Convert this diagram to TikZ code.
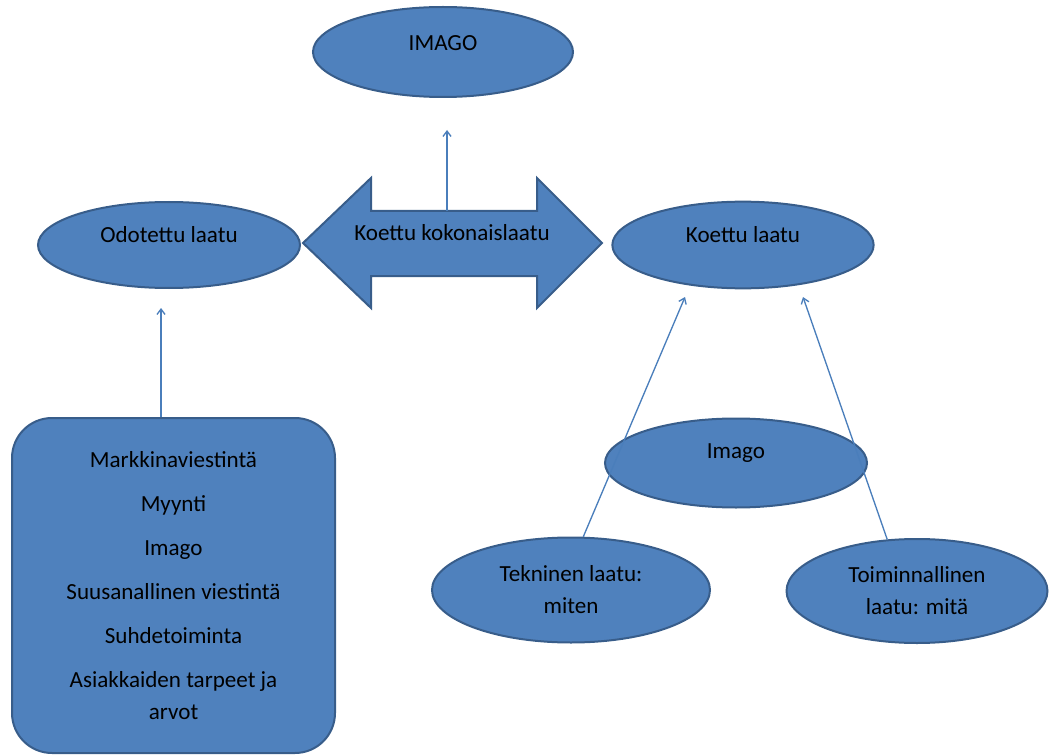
\documentclass[tikz,border=0pt]{standalone}
\usepackage{fontspec}
\setmainfont{Carlito}
\usetikzlibrary{arrows.meta,shapes.geometric}
\definecolor{officeblue}{HTML}{4F81BD}
\definecolor{officeedge}{HTML}{385D8A}
\definecolor{linkblue}{HTML}{4A7EBB}

\begin{document}
\begin{tikzpicture}[x=0.75pt,y=-0.75pt,
    blob/.style={ellipse,draw=officeedge,fill=officeblue,line width=1.5pt,inner sep=0pt,
      align=center,font=\fontsize{17.3}{24}\selectfont},
    panel/.style={rectangle,rounded corners=30pt,draw=officeedge,fill=officeblue,line width=1.5pt,
      inner sep=0pt,align=center,font=\fontsize{17.3}{24}\selectfont},
    lbl/.style={align=center,font=\fontsize{17.3}{24}\selectfont},
    link/.style={draw=linkblue,line width=1pt,-{Straight Barb[length=4pt,width=6pt]}}]
  \useasboundingbox (0,0) rectangle (1050,756);
  % ellipses
  \node[blob,minimum width=195pt,minimum height=67.5pt,label={[lbl,yshift=6.75pt]center:IMAGO}] (imago) at (443,52) {};
  \node[blob,minimum width=196.5pt,minimum height=64.5pt,label={[lbl,yshift=7.5pt]center:Odotettu laatu}] (odo) at (169,245) {};
  \node[blob,minimum width=196pt,minimum height=65pt,label={[lbl,yshift=7.5pt]center:Koettu laatu}] (koettu) at (743,245) {};
  \node[blob,minimum width=196.5pt,minimum height=66.75pt,label={[lbl,yshift=7.5pt]center:Imago}] (imago2) at (736,463) {};
  \node[blob,minimum width=208.5pt,minimum height=78.75pt] (tek) at (571,590) {Tekninen laatu:\\ miten};
  \node[blob,minimum width=195.75pt,minimum height=78pt] (toi) at (917,591) {Toiminnallinen\\ laatu: mitä};
  % double arrow
  \filldraw[fill=officeblue,draw=officeedge,line width=1.5pt] (303,243) -- (371,178) -- (371,211) -- (537,211)
    -- (537,178) -- (602,243) -- (537,308) -- (537,276) -- (371,276) -- (371,308) -- cycle;
  \node[lbl] (koko) at (452,233) {Koettu kokonaislaatu};
  % box
  \node[panel,minimum width=242.25pt,minimum height=251.25pt] (tekijat) at (173.5,585.5)
    {Markkinaviestintä\\[9pt] Myynti\\[9pt] Imago\\[9pt] Suusanallinen viestintä\\[9pt]
     Suhdetoiminta\\[9pt] Asiakkaiden tarpeet ja\\ arvot};
  % connectors
  \coordinate (imtip) at (447,130);
  \coordinate (shafttop) at (447,211);
  \coordinate (odotip) at (161,308);
  \coordinate (tektip) at (685,297);
  \coordinate (toitip) at (803,297);
  \draw[link] (shafttop) -- (imtip);
  \draw[link] (odotip |- tekijat.north) -- (odotip);
  \draw[link] (tek.77) -- (tektip);
  \draw[link] (toi.120) -- (toitip);
\end{tikzpicture}
\end{document}
